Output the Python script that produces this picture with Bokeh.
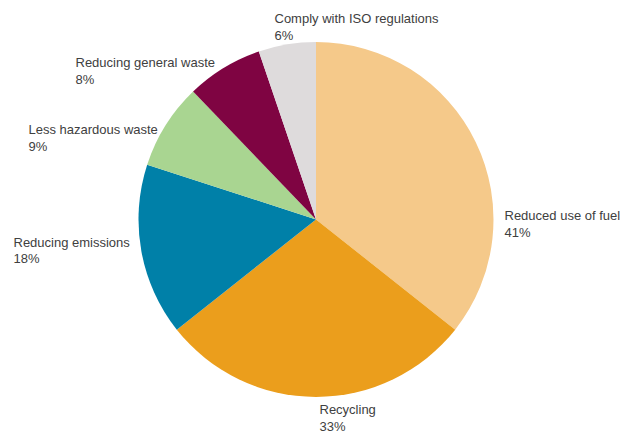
import math
from bokeh.plotting import figure
from bokeh.models import ColumnDataSource, Range1d
from bokeh.embed import file_html
from bokeh.resources import INLINE
from bokeh.core.properties import value

# ---- data ----
categories = ["Reduced use of fuel", "Recycling", "Reducing emissions",
              "Less hazardous waste", "Reducing general waste", "Comply with ISO regulations"]
values = [41, 33, 18, 9, 8, 6]
colors = ["#F5C98A", "#EB9E1C", "#0080A8", "#A9D591", "#7F0442", "#DEDBDC"]

# ---- layout (figure pixel units) ----
W, H = 621, 433
CX, CY, R = 315.5, H - 219.0, 177.5
# label top-left anchors in image pixel coords
label_pos = [(504, 207.5), (319, 401.5), (13, 234), (28, 121.5), (75, 54.5), (274, 10.5)]

total = sum(values)
starts, ends = [], []
cum = 0.0
for v in values:
    a0 = cum / total * 2 * math.pi
    cum += v
    a1 = cum / total * 2 * math.pi
    # clockwise from 12 o'clock
    starts.append(math.pi / 2 - a1)
    ends.append(math.pi / 2 - a0)

src = ColumnDataSource(dict(start=starts, end=ends, color=colors))

p = figure(width=W, height=H, output_backend="svg", toolbar_location=None,
           x_range=Range1d(0, W), y_range=Range1d(0, H), min_border=0)
p.axis.visible = False
p.grid.visible = False
p.outline_line_color = None
p.background_fill_color = "white"

p.wedge(x=CX, y=CY, radius=R, start_angle="start", end_angle="end",
        direction="anticlock", fill_color="color", line_color=None, source=src)

lx = [x for x, y in label_pos]
ly = [H - y for x, y in label_pos]
texts = [f"{c}\n{v}%" for c, v in zip(categories, values)]
p.text(x=lx, y=ly, text=texts, text_font=value("Liberation Sans"),
       text_font_size="13px", text_color="#404040", text_align="left",
       text_baseline="top", text_line_height=1.1)

open("out.html", "w").write(file_html(p, INLINE))
